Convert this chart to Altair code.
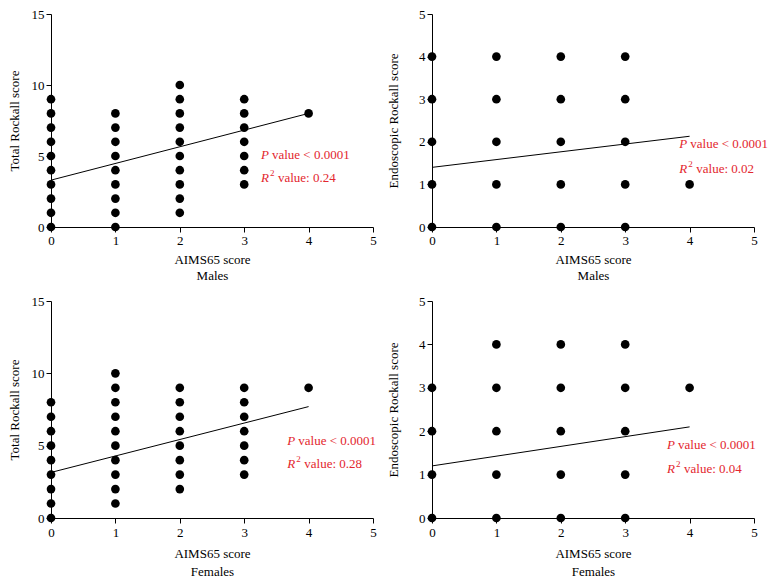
import altair as alt
import pandas as pd

FONT = "Liberation Serif"
RED = "#e3262e"

# AIMS65 score columns
aims = [0, 1, 2, 3, 4]

# Rockall scores observed in each AIMS65 column
male_total = [
    [0, 1, 2, 3, 4, 5, 6, 7, 8, 9],
    [0, 1, 2, 3, 4, 5, 6, 7, 8],
    [1, 2, 3, 4, 5, 6, 7, 8, 9, 10],
    [3, 4, 5, 6, 7, 8, 9],
    [8],
]
male_endo = [
    [0, 1, 2, 3, 4],
    [0, 1, 2, 3, 4],
    [0, 1, 2, 3, 4],
    [0, 1, 2, 3, 4],
    [1],
]
female_total = [
    [0, 1, 2, 3, 4, 5, 6, 7, 8],
    [1, 2, 3, 4, 5, 6, 7, 8, 9, 10],
    [2, 3, 4, 5, 6, 7, 8, 9],
    [3, 4, 5, 6, 7, 8, 9],
    [9],
]
female_endo = [
    [0, 1, 2, 3],
    [0, 1, 2, 3, 4],
    [0, 1, 2, 3, 4],
    [0, 1, 2, 3, 4],
    [3],
]

# regression line: fitted value at AIMS65 = 0 and AIMS65 = 4
fit_x = [0, 4]
male_total_fit = [3.3, 8.0]
male_endo_fit = [1.4, 2.13]
female_total_fit = [3.15, 7.7]
female_endo_fit = [1.2, 2.1]

r2_values = ["0.24", "0.02", "0.28", "0.04"]
p_text = "value < 0.0001"


def text_layer(x, y, text, dx=0, dy=0, size=13, italic=False):
    df = pd.DataFrame({"x": [x], "y": [y], "t": [text]})
    return alt.Chart(df).mark_text(
        align="left", baseline="middle", font=FONT, fontSize=size,
        fontStyle="italic" if italic else "normal", color=RED, dx=dx, dy=dy
    ).encode(x="x:Q", y="y:Q", text="t:N")


def panel(cols, fit, ymax, yticks, ytitle, sex, r2, ann_x, ann_p, ann_r,
          height, ypad, line_h, xlab_pad, xtitle_pad):
    rows = [(aims[i], v) for i, col in enumerate(cols) for v in col]
    pts = pd.DataFrame(rows, columns=["aims", "score"])
    line = pd.DataFrame({"aims": fit_x, "score": fit})

    xs = alt.Scale(domain=[0, 5], nice=False)
    ys = alt.Scale(domain=[0, ymax], nice=False)

    dots = alt.Chart(pts).mark_circle(size=75, color="black", opacity=1).encode(
        x=alt.X("aims:Q", scale=xs, title=["AIMS65 score", sex],
                axis=alt.Axis(values=[0, 1, 2, 3, 4, 5], format="d",
                              titleLineHeight=line_h, labelPadding=xlab_pad,
                              titlePadding=xtitle_pad)),
        y=alt.Y("score:Q", scale=ys, title=ytitle,
                axis=alt.Axis(values=yticks, format="d", titlePadding=ypad)),
    )
    reg = alt.Chart(line).mark_line(color="black", strokeWidth=1).encode(
        x="aims:Q", y="score:Q"
    )
    layers = [
        reg, dots,
        text_layer(ann_x, ann_p, "P", italic=True),
        text_layer(ann_x, ann_p, p_text, dx=11),
        text_layer(ann_x, ann_r, "R", italic=True),
        text_layer(ann_x, ann_r, "2", dx=9, dy=-5, size=9),
        text_layer(ann_x, ann_r, "value: " + r2, dx=17),
    ]
    return alt.layer(*layers).properties(width=322, height=height)


p1 = panel(male_total, male_total_fit, 15, [0, 5, 10, 15], "Total Rockall score",
           "Males", r2_values[0], 3.26, 5.05, 3.45, 213, 10, 16, 2, 6)
p2 = panel(male_endo, male_endo_fit, 5, [0, 1, 2, 3, 4, 5], "Endoscopic Rockall score",
           "Males", r2_values[1], 3.84, 1.94, 1.36, 213, 18, 16, 2, 6)
p3 = panel(female_total, female_total_fit, 15, [0, 5, 10, 15], "Total Rockall score",
           "Females", r2_values[2], 3.67, 5.3, 3.7, 217, 10, 18, 3, 8)
p4 = panel(female_endo, female_endo_fit, 5, [0, 1, 2, 3, 4, 5], "Endoscopic Rockall score",
           "Females", r2_values[3], 3.65, 1.68, 1.13, 217, 18, 18, 3, 8)

chart = alt.vconcat(
    alt.hconcat(p1, p2, spacing=10),
    alt.hconcat(p3, p4, spacing=10),
    spacing=13,
).properties(
    padding=0, background="white"
).configure_view(
    stroke=None
).configure_axis(
    grid=False,
    domainColor="black",
    domainWidth=1,
    tickColor="black",
    tickSize=5,
    labelColor="black",
    labelFont=FONT,
    labelFontSize=13,
    labelPadding=2,
    labelFlush=False,
    titleColor="black",
    titleFont=FONT,
    titleFontSize=13,
    titleFontWeight="normal",
)

chart.save("out.html", embed_options={"renderer": "svg", "actions": False})
